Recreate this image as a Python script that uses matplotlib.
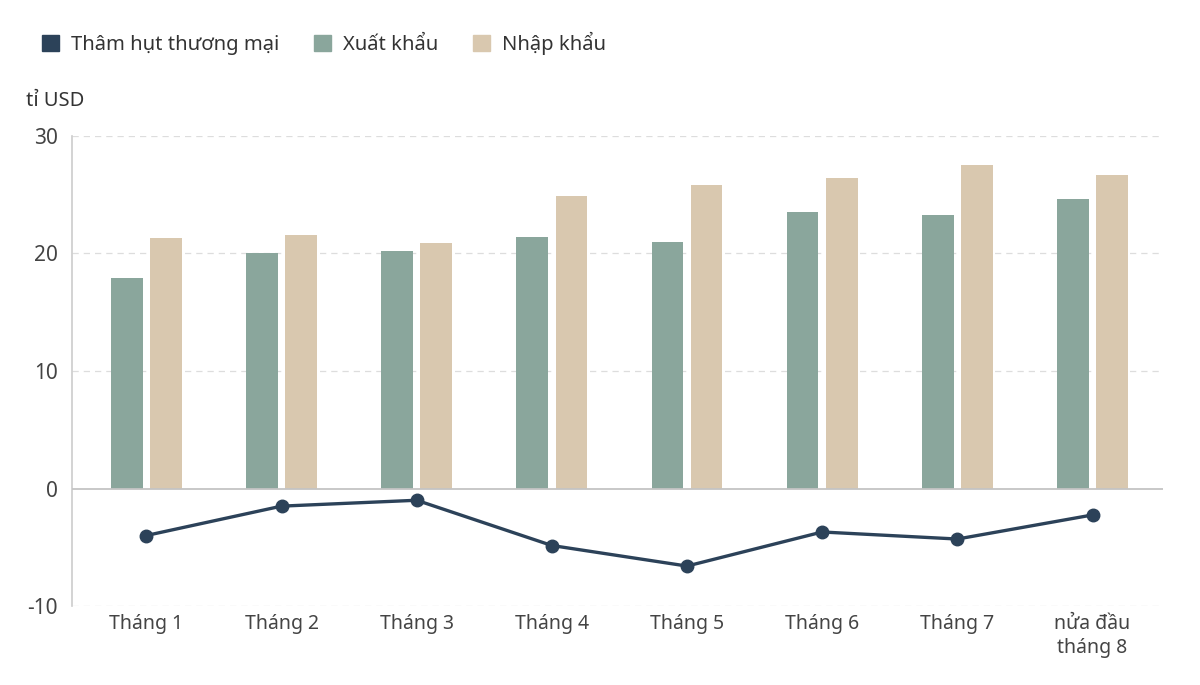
import numpy as np
import matplotlib
matplotlib.use("Agg")
from matplotlib import pyplot as plt
from matplotlib.patches import Patch

plt.rcParams['font.family'] = ['Noto Sans', 'DejaVu Sans']

months = ["Tháng 1", "Tháng 2", "Tháng 3", "Tháng 4", "Tháng 5", "Tháng 6", "Tháng 7", "nửa đầu\ntháng 8"]
exports = [17.9, 20.0, 20.2, 21.4, 21.0, 23.5, 23.3, 24.6]
imports = [21.3, 21.6, 20.9, 24.9, 25.8, 26.4, 27.5, 26.7]
deficit = [-4.0, -1.5, -1.0, -4.85, -6.6, -3.7, -4.3, -2.25]
yticks = [-10, 0, 10, 20, 30]

c_line = "#2c4259"
c_exp = "#8aa69c"
c_imp = "#d9c8af"

fig = plt.figure(figsize=(12, 6.85), dpi=100)
ax = fig.add_axes([0.06, 0.1153, 0.909, 0.6862])

x = np.arange(len(months))
w = 0.235
ax.bar(x - 0.145, exports, width=w, color=c_exp, zorder=2)
ax.bar(x + 0.145, imports, width=w, color=c_imp, zorder=2)
ax.plot(x, deficit, color=c_line, lw=2.4, marker="o", ms=9, zorder=4)

ax.set_xlim(-0.55, 7.52)
ax.set_ylim(-10, 30)
ax.set_yticks(yticks)
ax.set_yticklabels([str(v) for v in yticks])
ax.set_xticks(x)
ax.set_xticklabels(months, linespacing=1.25)

for v in [-10, 10, 20, 30]:
    ax.axhline(v, color="#dddddd", lw=0.9, ls=(0, (5, 4)), zorder=1)
ax.axhline(0, color="#c4c4c4", lw=1.3, zorder=3)

for s in ["top", "right", "bottom"]:
    ax.spines[s].set_visible(False)
ax.spines["left"].set_color("#cccccc")
ax.spines["left"].set_linewidth(1.2)
ax.tick_params(axis="both", length=0, colors="#444444", labelsize=14)
ax.tick_params(axis="y", pad=10, labelsize=15)
ax.tick_params(axis="x", pad=6)

fig.text(0.022, 0.853, "tỉ USD", fontsize=14.5, color="#333333", va="center")

handles = [Patch(facecolor=c_line, edgecolor=c_line),
           Patch(facecolor=c_exp, edgecolor=c_exp),
           Patch(facecolor=c_imp, edgecolor=c_imp)]
labels = ["Thâm hụt thương mại", "Xuất khẩu", "Nhập khẩu"]
fig.legend(handles, labels, loc="center left", bbox_to_anchor=(0.02, 0.937), ncol=3,
           frameon=False, fontsize=14.5, handlelength=0.85, handleheight=0.85,
           handletextpad=0.6, columnspacing=1.7, labelcolor="#333333")

fig.savefig("out.png", dpi=100, facecolor="white")
